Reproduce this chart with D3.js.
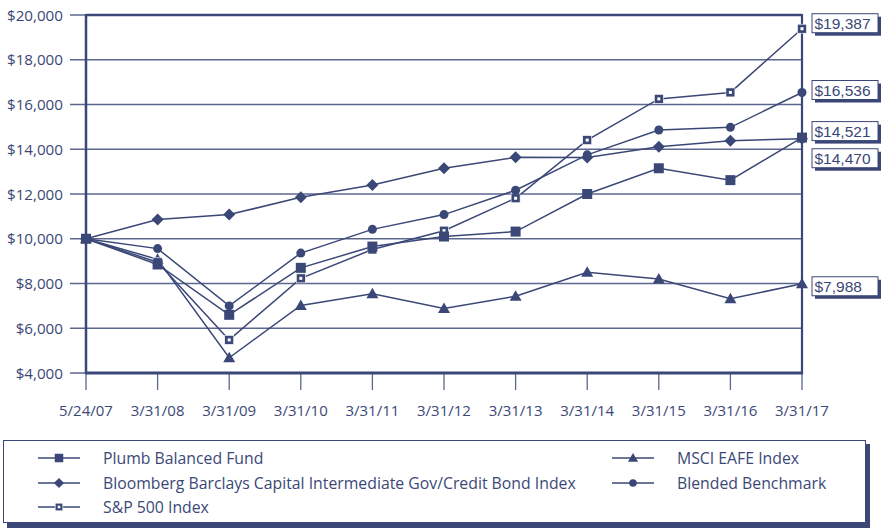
<!DOCTYPE html>
<html><head><meta charset="utf-8">
<script src="https://cdn.jsdelivr.net/npm/d3@7"></script>
<style>
body{margin:0;background:#fff;}
svg{display:block;}
</style></head>
<body><svg id="c" width="884" height="530"></svg>
<script>
const dates = ["5/24/07","3/31/08","3/31/09","3/31/10","3/31/11","3/31/12","3/31/13","3/31/14","3/31/15","3/31/16","3/31/17"];
const yTicks = [4000,6000,8000,10000,12000,14000,16000,18000,20000];
const plumb     = [10000, 8850, 6600, 8700, 9650, 10100, 10320, 12000, 13150, 12620, 14521];
const bloomberg = [10000,10860,11080,11850,12400, 13150, 13640, 13630, 14110, 14380, 14470];
const sp500     = [10000, 8950, 5480, 8230, 9520, 10360, 11810, 14410, 16250, 16540, 19387];
const eafe      = [10000, 9080, 4680, 7020, 7540,  6880,  7430,  8500,  8200,  7320,  7988];
const blended   = [10000, 9560, 7000, 9360,10420, 11080, 12170, 13750, 14860, 14980, 16536];
const seriesNames = ["Plumb Balanced Fund","Bloomberg Barclays Capital Intermediate Gov/Credit Bond Index","S&P 500 Index","MSCI EAFE Index","Blended Benchmark"];
const endLabels = ["$14,521","$14,470","$19,387","$7,988","$16,536"];

const C = "#3b4877";
const GRID = "#5c6790";
const svg = d3.select("#c");
const x = d3.scalePoint().domain(dates).range([86,802]);
const y = d3.scaleLinear().domain([4000,20000]).range([373,15]);

const series = [
  {name:seriesNames[0], vals:plumb, shape:"square", label:endLabels[0], dy:-5},
  {name:seriesNames[1], vals:bloomberg, shape:"diamond", label:endLabels[1], dy:21},
  {name:seriesNames[2], vals:sp500, shape:"open", label:endLabels[2], dy:-4},
  {name:seriesNames[3], vals:eafe, shape:"triangle", label:endLabels[3], dy:4},
  {name:seriesNames[4], vals:blended, shape:"circle", label:endLabels[4], dy:-1}
];

// gridlines + y ticks
svg.append("g").selectAll("line").data(yTicks).join("line")
  .attr("x1",70).attr("x2",802).attr("y1",d=>y(d)).attr("y2",d=>y(d))
  .attr("stroke",GRID).attr("stroke-width",1.6);
svg.append("g").selectAll("text").data(yTicks).join("text")
  .attr("x",63).attr("y",d=>y(d)+5.5).attr("text-anchor","end")
  .attr("font-family","Open Sans, sans-serif").attr("font-size",15.2).attr("fill",C)
  .text(d=>"$"+d3.format(",")(d));

// x ticks
svg.append("g").selectAll("line").data(dates).join("line")
  .attr("x1",d=>x(d)).attr("x2",d=>x(d)).attr("y1",373).attr("y2",390)
  .attr("stroke",GRID).attr("stroke-width",1.3);
svg.append("g").selectAll("text").data(dates).join("text")
  .attr("x",d=>x(d)).attr("y",416).attr("text-anchor","middle")
  .attr("font-family","Open Sans, sans-serif").attr("font-size",15).attr("fill",C)
  .text(d=>d);

// frame
svg.append("line").attr("x1",86).attr("x2",802).attr("y1",y(20000)).attr("y2",y(20000)).attr("stroke",C).attr("stroke-width",2.5);
svg.append("line").attr("x1",85).attr("x2",803).attr("y1",y(4000)).attr("y2",y(4000)).attr("stroke",C).attr("stroke-width",3);
svg.append("line").attr("x1",86).attr("x2",86).attr("y1",14).attr("y2",374).attr("stroke",C).attr("stroke-width",2.5);
svg.append("line").attr("x1",802).attr("x2",802).attr("y1",14).attr("y2",374).attr("stroke",C).attr("stroke-width",2.2);

function marker(g, shape, cx, cy, s){
  s = s||1;
  if(shape==="square"){
    g.append("rect").attr("x",cx-5*s).attr("y",cy-5*s).attr("width",10*s).attr("height",10*s).attr("fill",C);
  } else if(shape==="diamond"){
    g.append("path").attr("d",`M${cx},${cy-6*s}L${cx+6*s},${cy}L${cx},${cy+6*s}L${cx-6*s},${cy}Z`).attr("fill",C);
  } else if(shape==="circle"){
    g.append("circle").attr("cx",cx).attr("cy",cy).attr("r",4.5*s).attr("fill",C);
  } else if(shape==="triangle"){
    g.append("path").attr("d",`M${cx},${cy-6*s}L${cx+6*s},${cy+4.5*s}L${cx-6*s},${cy+4.5*s}Z`).attr("fill",C);
  } else if(shape==="open"){
    g.append("rect").attr("x",cx-4.5*s).attr("y",cy-4.5*s).attr("width",9*s).attr("height",9*s).attr("fill",C).attr("stroke","#fff").attr("stroke-width",0.6);
    g.append("rect").attr("x",cx-1.5*s).attr("y",cy-1.5*s).attr("width",3*s).attr("height",3*s).attr("fill","#fff");
  }
}

const line = d3.line().x((d,i)=>x(dates[i])).y(d=>y(d));
const drawOrder = [3,2,0,4,1];
drawOrder.forEach(k=>{
  const s = series[k];
  svg.append("path").attr("d",line(s.vals)).attr("fill","none").attr("stroke",C).attr("stroke-width",1.5);
});
drawOrder.forEach(k=>{
  const s = series[k];
  const g = svg.append("g");
  s.vals.forEach((v,i)=>marker(g,s.shape,x(dates[i]),y(v)));
});

// end labels
series.forEach(s=>{
  const v = s.vals[s.vals.length-1];
  const cy = y(v)+s.dy;
  const g = svg.append("g");
  g.append("rect").attr("x",815).attr("y",cy-8).attr("width",66).attr("height",19).attr("fill",C);
  g.append("rect").attr("x",812).attr("y",cy-11).attr("width",66).attr("height",19).attr("fill","#fff").attr("stroke",C).attr("stroke-width",1);
  g.append("text").attr("x",814.5).attr("y",cy+4.5).attr("font-family","Liberation Sans, Arial, sans-serif")
    .attr("font-size",15.5).attr("fill",C).text(s.label);
});

// legend
svg.append("rect").attr("x",7).attr("y",444).attr("width",863).attr("height",84).attr("fill",C);
svg.append("rect").attr("x",3.5).attr("y",440.5).attr("width",862).attr("height",82).attr("fill","#fff").attr("stroke",C).attr("stroke-width",1);
const legPos = [[38,458],[38,483],[38,507],[612,458],[612,483]];
series.forEach((s,i)=>{
  const [lx,ly] = legPos[i];
  const g = svg.append("g");
  g.append("line").attr("x1",lx).attr("x2",lx+42).attr("y1",ly).attr("y2",ly).attr("stroke",C).attr("stroke-width",1.5);
  marker(g,s.shape,lx+21,ly,0.85);
  g.append("text").attr("x",lx+65).attr("y",ly+5.5).attr("font-family","Open Sans, sans-serif")
    .attr("font-size",15.8).attr("fill",C).text(s.name);
});
</script></body></html>
